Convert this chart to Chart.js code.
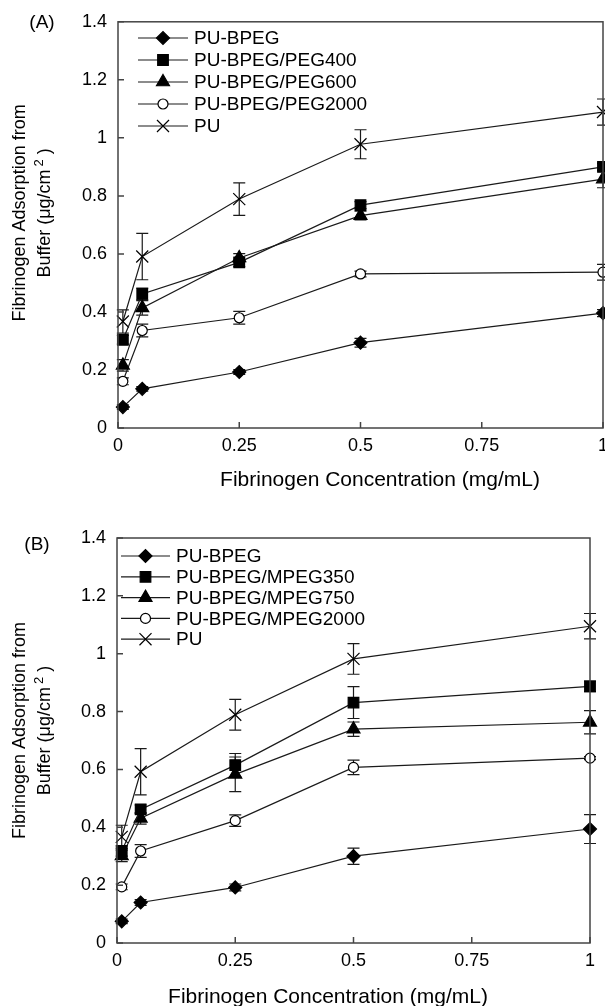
<!DOCTYPE html>
<html>
<head>
<meta charset="utf-8">
<script src="https://cdn.jsdelivr.net/npm/chart.js@4.4.0/dist/chart.umd.min.js"></script>
<style>
  html, body { margin: 0; padding: 0; background: #fff; overflow: hidden; width: 605px; height: 1006px; }
  canvas { display: block; }
</style>
</head>
<body>
<canvas id="chartA" width="620" height="503"></canvas>
<canvas id="chartB" width="605" height="503"></canvas>
<script>
(function () {
  'use strict';

  // shared axes
  var concentrations = [0.01, 0.05, 0.25, 0.5, 1];
  var xTicks = [0, 0.25, 0.5, 0.75, 1];
  var yTicks = [0, 0.2, 0.4, 0.6, 0.8, 1, 1.2, 1.4];
  var xTitle = 'Fibrinogen Concentration (mg/mL)';
  var yTitle1 = 'Fibrinogen Adsorption from';
  var yTitle2 = ['Buffer (\u03bcg/cm', '2', ' )'];

  // panel A
  var namesA = ['PU-BPEG', 'PU-BPEG/PEG400', 'PU-BPEG/PEG600', 'PU-BPEG/PEG2000', 'PU'];
  var bpegA = [0.072, 0.135, 0.193, 0.294, 0.396];
  var peg400A = [0.304, 0.462, 0.571, 0.768, 0.900];
  var peg600A = [0.216, 0.414, 0.586, 0.732, 0.858];
  var peg2000A = [0.161, 0.336, 0.380, 0.531, 0.537];
  var puA = [0.367, 0.591, 0.789, 0.978, 1.089];
  var bpegErrA = [0.008, 0.008, 0.008, 0.015, 0.012];
  var peg400ErrA = [0.015, 0.02, 0.015, 0.012, 0.012];
  var peg600ErrA = [0.02, 0.025, 0.015, 0.015, 0.03];
  var peg2000ErrA = [0.012, 0.022, 0.022, 0.01, 0.027];
  var puErrA = [0.04, 0.08, 0.056, 0.05, 0.045];

  // panel B
  var namesB = ['PU-BPEG', 'PU-BPEG/MPEG350', 'PU-BPEG/MPEG750', 'PU-BPEG/MPEG2000', 'PU'];
  var bpegB = [0.075, 0.140, 0.192, 0.300, 0.394];
  var mpeg350B = [0.318, 0.462, 0.615, 0.831, 0.887];
  var mpeg750B = [0.301, 0.431, 0.583, 0.739, 0.763];
  var mpeg2000B = [0.194, 0.318, 0.423, 0.607, 0.639];
  var puB = [0.367, 0.592, 0.789, 0.982, 1.095];
  var bpegErrB = [0.008, 0.01, 0.012, 0.028, 0.05];
  var mpeg350ErrB = [0.018, 0.015, 0.04, 0.055, 0.018];
  var mpeg750ErrB = [0.02, 0.02, 0.06, 0.025, 0.04];
  var mpeg2000ErrB = [0.01, 0.022, 0.02, 0.025, 0.005];
  var puErrB = [0.04, 0.08, 0.053, 0.053, 0.044];

  var MARKERS = [
    { style: 'rectRot', radius: 6.5, fill: '#000' },
    { style: 'rect', radius: 7.5, fill: '#000' },
    { style: 'triangle', radius: 7.5, fill: '#000' },
    { style: 'circle', radius: 5, fill: '#fff' },
    { style: 'crossRot', radius: 8.5, fill: '#000' }
  ];
  var FONT = 'Liberation Sans, Arial, Helvetica, sans-serif';
  var INK = '#1a1a1a';

  function drawMarker(ctx, m, x, y) {
    ctx.save();
    ctx.fillStyle = m.fill;
    ctx.strokeStyle = '#000';
    ctx.lineWidth = 1.2;
    if (Chart.helpers && Chart.helpers.drawPoint) {
      Chart.helpers.drawPoint(ctx, { pointStyle: m.style, rotation: 0, radius: m.radius, borderWidth: 1.2 }, x, y);
    } else {
      ctx.beginPath();
      ctx.arc(x, y, m.radius, 0, Math.PI * 2);
      ctx.fill();
      ctx.stroke();
    }
    ctx.restore();
  }

  function drawYTitle(ctx, x1, x2, cy) {
    ctx.save();
    ctx.fillStyle = '#000';
    ctx.textBaseline = 'middle';
    ctx.font = '18px ' + FONT;
    // first line
    ctx.save();
    ctx.translate(x1, cy);
    ctx.rotate(-Math.PI / 2);
    ctx.textAlign = 'center';
    ctx.fillText(yTitle1, 0, 0);
    ctx.restore();
    // second line, with the superscript 2
    ctx.translate(x2, cy);
    ctx.rotate(-Math.PI / 2);
    ctx.textAlign = 'left';
    ctx.font = '18px ' + FONT;
    var w0 = ctx.measureText(yTitle2[0]).width;
    var w2 = ctx.measureText(yTitle2[2]).width;
    ctx.font = '13px ' + FONT;
    var w1 = ctx.measureText(yTitle2[1]).width + 3;
    var start = -(w0 + w1 + w2) / 2;
    ctx.font = '18px ' + FONT;
    ctx.fillText(yTitle2[0], start, 0);
    ctx.font = '13px ' + FONT;
    ctx.fillText(yTitle2[1], start + w0 + 3, -6);
    ctx.font = '18px ' + FONT;
    ctx.fillText(yTitle2[2], start + w0 + w1, 0);
    ctx.restore();
  }

  var panelPlugin = {
    id: 'panelDecor',
    beforeDatasetsDraw: function (chart, args, opts) {
      var ctx = chart.ctx;
      var xs = chart.scales.x, ys = chart.scales.y;
      ctx.save();
      ctx.strokeStyle = INK;
      ctx.lineWidth = 1.2;
      opts.errors.forEach(function (errs, di) {
        var vals = chart.data.datasets[di].data;
        vals.forEach(function (p, i) {
          var e = errs[i];
          if (!e) return;
          var px = xs.getPixelForValue(p.x);
          var top = ys.getPixelForValue(p.y + e);
          var bot = ys.getPixelForValue(p.y - e);
          ctx.beginPath();
          ctx.moveTo(px, top); ctx.lineTo(px, bot);
          ctx.moveTo(px - 6, top); ctx.lineTo(px + 6, top);
          ctx.moveTo(px - 6, bot); ctx.lineTo(px + 6, bot);
          ctx.stroke();
        });
      });
      ctx.restore();
    },
    afterDraw: function (chart, args, opts) {
      var ctx = chart.ctx;
      var area = chart.chartArea;
      var xs = chart.scales.x, ys = chart.scales.y;
      ctx.save();
      // frame
      ctx.strokeStyle = '#444';
      ctx.lineWidth = 1.5;
      ctx.strokeRect(area.left, area.top, area.right - area.left, area.bottom - area.top);
      // inward ticks
      ctx.beginPath();
      yTicks.forEach(function (v) {
        var py = ys.getPixelForValue(v);
        ctx.moveTo(area.left, py); ctx.lineTo(area.left + 6, py);
      });
      xTicks.forEach(function (v) {
        var px = xs.getPixelForValue(v);
        ctx.moveTo(px, area.bottom); ctx.lineTo(px, area.bottom - 6);
      });
      ctx.stroke();

      // legend
      var lg = opts.legend;
      ctx.font = '19px ' + FONT;
      ctx.textBaseline = 'middle';
      ctx.textAlign = 'left';
      chart.data.datasets.forEach(function (ds, i) {
        var y = lg.y + i * lg.step;
        ctx.strokeStyle = INK;
        ctx.lineWidth = 1.2;
        ctx.beginPath();
        ctx.moveTo(lg.x0, y); ctx.lineTo(lg.x1, y);
        ctx.stroke();
        drawMarker(ctx, MARKERS[i], (lg.x0 + lg.x1) / 2, y);
        ctx.fillStyle = '#000';
        ctx.fillText(ds.label, lg.x1 + 6, y + 1);
      });

      // axis titles
      var t = opts.titles;
      ctx.fillStyle = '#000';
      ctx.font = '21px ' + FONT;
      ctx.textAlign = 'center';
      ctx.textBaseline = 'middle';
      ctx.fillText(xTitle, t.xCx, t.xCy);
      drawYTitle(ctx, t.y1, t.y2, (area.top + area.bottom) / 2 + t.yShift);

      // panel label
      ctx.font = '19px ' + FONT;
      ctx.textAlign = 'center';
      ctx.textBaseline = 'middle';
      ctx.fillStyle = '#000';
      ctx.fillText(opts.tag.text, opts.tag.x, opts.tag.y);
      ctx.restore();
    }
  };

  function makeChart(id, names, series, errors, layout) {
    var datasets = series.map(function (vals, i) {
      var m = MARKERS[i];
      return {
        label: names[i],
        data: vals.map(function (v, j) { return { x: concentrations[j], y: v }; }),
        borderColor: INK,
        borderWidth: 1.2,
        pointStyle: m.style,
        pointRadius: m.radius,
        pointBackgroundColor: m.fill,
        pointBorderColor: '#000',
        pointBorderWidth: 1.2,
        tension: 0,
        fill: false,
        clip: false
      };
    });

    return new Chart(document.getElementById(id).getContext('2d'), {
      type: 'line',
      data: { datasets: datasets },
      plugins: [panelPlugin],
      options: {
        responsive: false,
        animation: false,
        events: [],
        layout: { padding: layout.padding },
        plugins: {
          legend: { display: false },
          tooltip: { enabled: false },
          panelDecor: { errors: errors, legend: layout.legend, tag: layout.tag, titles: layout.titles }
        },
        scales: {
          x: {
            type: 'linear',
            min: 0,
            max: 1,
            afterBuildTicks: function (s) { s.ticks = xTicks.map(function (v) { return { value: v }; }); },
            afterFit: function (s) { s.height = layout.xHeight; },
            grid: { display: false, drawTicks: false },
            border: { display: false },
            ticks: {
              color: '#000',
              padding: 7,
              maxRotation: 0,
              autoSkip: false,
              font: { family: FONT, size: 18 },
              callback: function (v) { return String(+Number(v).toFixed(2)); }
            },
            title: { display: false }
          },
          y: {
            type: 'linear',
            min: 0,
            max: 1.4,
            afterBuildTicks: function (s) { s.ticks = yTicks.map(function (v) { return { value: v }; }); },
            afterFit: function (s) { s.width = layout.yWidth; },
            grid: { display: false, drawTicks: false },
            border: { display: false },
            ticks: {
              color: '#000',
              padding: 11,
              autoSkip: false,
              font: { family: FONT, size: 18 },
              callback: function (v) { return String(+Number(v).toFixed(2)); }
            },
            title: { display: false }
          }
        }
      }
    });
  }

  makeChart('chartA', namesA,
    [bpegA, peg400A, peg600A, peg2000A, puA],
    [bpegErrA, peg400ErrA, peg600ErrA, peg2000ErrA, puErrA],
    {
      padding: { top: 21, right: 17, left: 0, bottom: 0 },
      xHeight: 75,
      yWidth: 118,
      legend: { x0: 138, x1: 188, y: 38, step: 22 },
      titles: { xCx: 380, xCy: 480, y1: 20, y2: 45, yShift: -12 },
      tag: { text: '(A)', x: 42, y: 23 }
    });

  makeChart('chartB', namesB,
    [bpegB, mpeg350B, mpeg750B, mpeg2000B, puB],
    [bpegErrB, mpeg350ErrB, mpeg750ErrB, mpeg2000ErrB, puErrB],
    {
      padding: { top: 35, right: 15, left: 0, bottom: 0 },
      xHeight: 63,
      yWidth: 117,
      legend: { x0: 121, x1: 170, y: 53, step: 20.8 },
      titles: { xCx: 328, xCy: 494, y1: 20, y2: 45, yShift: -10 },
      tag: { text: '(B)', x: 37, y: 42 }
    });
})();
</script>
</body>
</html>
